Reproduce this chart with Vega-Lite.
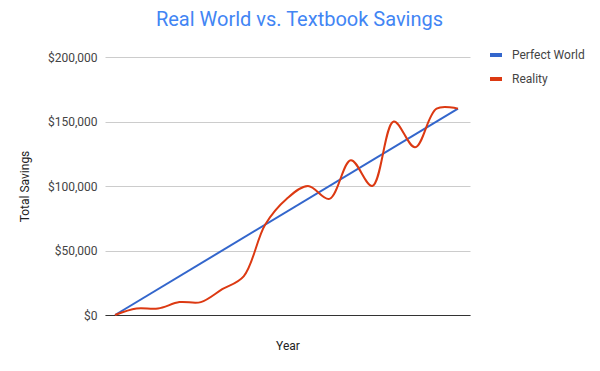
{
  "$schema": "https://vega.github.io/schema/vega-lite/v6.json",
  "width": 365,
  "height": 258,
  "autosize": {"type": "none"},
  "padding": {"left": 105, "top": 57, "right": 130, "bottom": 56},
  "background": "white",
  "config": {
    "font": "Roboto",
    "view": {"stroke": null}
  },
  "title": {
    "text": "Real World vs. Textbook Savings",
    "color": "#4285f4",
    "fontSize": 20,
    "fontWeight": "normal",
    "font": "Roboto",
    "anchor": "middle",
    "dx": 12,
    "offset": 17
  },
  "data": {
    "values": [
      {"year": 0, "series": "Perfect World", "savings": 0},
      {"year": 16, "series": "Perfect World", "savings": 160000},
      {"year": 0, "series": "Reality", "savings": 0},
      {"year": 1, "series": "Reality", "savings": 5000},
      {"year": 2, "series": "Reality", "savings": 5000},
      {"year": 3, "series": "Reality", "savings": 10000},
      {"year": 4, "series": "Reality", "savings": 10000},
      {"year": 5, "series": "Reality", "savings": 20000},
      {"year": 6, "series": "Reality", "savings": 30000},
      {"year": 7, "series": "Reality", "savings": 70000},
      {"year": 8, "series": "Reality", "savings": 90000},
      {"year": 9, "series": "Reality", "savings": 100000},
      {"year": 10, "series": "Reality", "savings": 90000},
      {"year": 11, "series": "Reality", "savings": 120000},
      {"year": 12, "series": "Reality", "savings": 100000},
      {"year": 13, "series": "Reality", "savings": 150000},
      {"year": 14, "series": "Reality", "savings": 130000},
      {"year": 15, "series": "Reality", "savings": 160000},
      {"year": 16, "series": "Reality", "savings": 160000}
    ]
  },
  "mark": {"type": "line", "interpolate": "catmull-rom", "strokeWidth": 2},
  "encoding": {
    "x": {
      "field": "year",
      "type": "quantitative",
      "scale": {"domain": [-0.47, 16.56], "nice": false, "zero": false},
      "axis": {
        "title": "Year",
        "labels": false,
        "ticks": false,
        "grid": false,
        "domainColor": "#333333",
        "domainWidth": 1,
        "titleFont": "Roboto",
        "titleFontSize": 12,
        "titleFontWeight": "normal",
        "titleColor": "#222222",
        "titlePadding": 25
      }
    },
    "y": {
      "field": "savings",
      "type": "quantitative",
      "scale": {"domain": [0, 200000], "nice": false},
      "axis": {
        "title": "Total Savings",
        "values": [0, 50000, 100000, 150000, 200000],
        "format": "$,.0f",
        "domain": false,
        "ticks": false,
        "gridColor": "#cccccc",
        "labelPadding": 8,
        "labelFont": "Roboto",
        "labelFontSize": 12,
        "labelColor": "#444444",
        "titleFont": "Roboto",
        "titleFontSize": 12,
        "titleFontWeight": "normal",
        "titleColor": "#222222",
        "titlePadding": 16
      }
    },
    "color": {
      "field": "series",
      "type": "nominal",
      "scale": {"domain": ["Perfect World", "Reality"], "range": ["#3366cc", "#dc3912"]},
      "legend": {
        "title": null,
        "orient": "none",
        "legendX": 383,
        "legendY": -10,
        "symbolType": "stroke",
        "symbolStrokeWidth": 4,
        "symbolSize": 144,
        "labelFont": "Roboto",
        "labelFontSize": 12,
        "labelColor": "#444444",
        "labelOffset": 8,
        "rowPadding": 8
      }
    }
  }
}
